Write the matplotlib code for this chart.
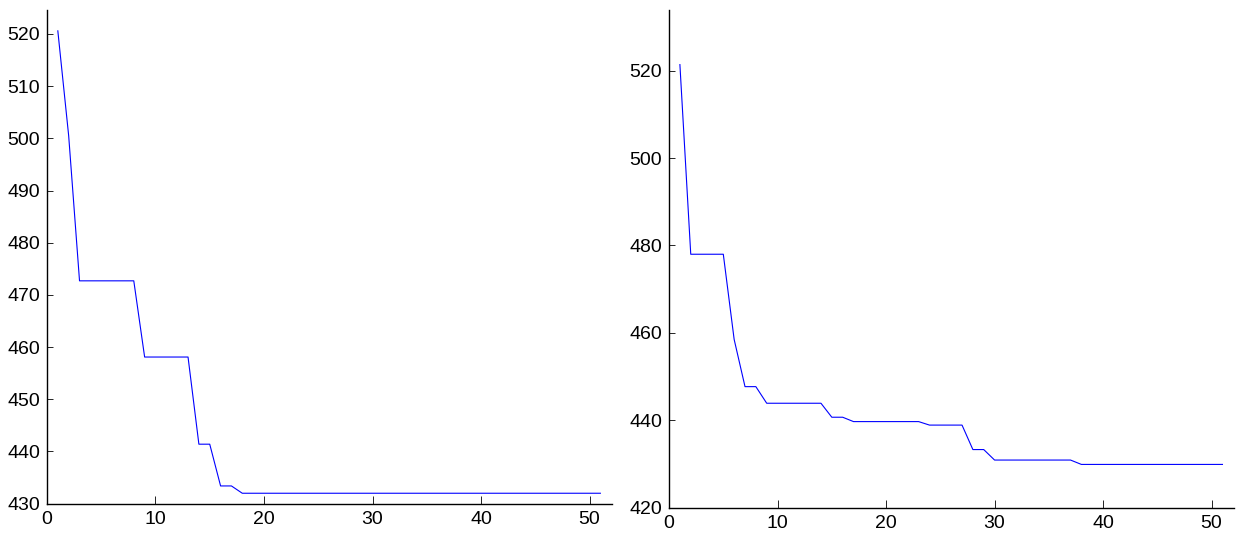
import matplotlib
matplotlib.use("Agg")
import matplotlib.pyplot as plt

# iteration index 1..51
iters = list(range(1, 52))

# left run: best value per iteration
left_vals = ([520.6, 500.5] + [472.7] * 6 + [458.1] * 5 + [441.4] * 2
             + [433.4] * 2 + [432.0] * 34)

# right run
right_vals = ([521.4] + [478.0] * 4 + [458.5] + [447.7] * 2 + [443.9] * 6
              + [440.7] * 2 + [439.7] * 7 + [438.9] * 4 + [433.3] * 2
              + [430.9] * 8 + [429.9] * 14)

x_ticks = [0, 10, 20, 30, 40, 50]
left_yticks = [430, 440, 450, 460, 470, 480, 490, 500, 510, 520]
right_yticks = [420, 440, 460, 480, 500, 520]

plt.rcParams['font.family'] = ['Liberation Sans', 'DejaVu Sans']
plt.rcParams['font.size'] = 14

fig = plt.figure(figsize=(12.36, 5.33), dpi=100)
ax1 = fig.add_axes([0.0380, 0.0550, 0.4574, 0.9263])
ax2 = fig.add_axes([0.5413, 0.0475, 0.4574, 0.9338])


def style(ax, yticks, ylim):
    ax.set_xlim(0, 52.1)
    ax.set_ylim(*ylim)
    ax.set_xticks(x_ticks)
    ax.set_yticks(yticks)
    for s in ('top', 'right'):
        ax.spines[s].set_visible(False)
    for s in ('left', 'bottom'):
        ax.spines[s].set_linewidth(1.0)
    ax.tick_params(axis='x', direction='in', length=5.5, width=0.6, pad=5)
    ax.tick_params(axis='y', direction='in', length=4, width=0.6, pad=5)


ax1.plot(iters, left_vals, color='blue', linewidth=0.8)
style(ax1, left_yticks, (430, 524.6))

ax2.plot(iters, right_vals, color='blue', linewidth=0.8)
style(ax2, right_yticks, (420, 533.9))

fig.savefig('out.png', dpi=100)
